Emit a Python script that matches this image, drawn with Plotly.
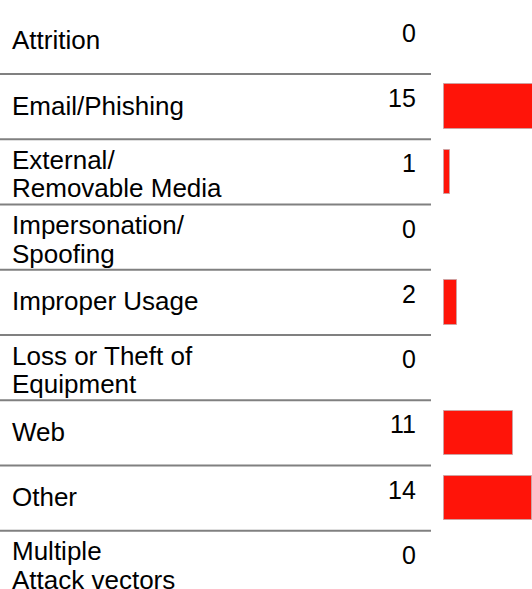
import plotly.graph_objects as go

# Attack vector categories (line breaks as printed in the table)
categories = [
    "Attrition",
    "Email/Phishing",
    "External/<br>Removable Media",
    "Impersonation/<br>Spoofing",
    "Improper Usage",
    "Loss or Theft of<br>Equipment",
    "Web",
    "Other",
    "Multiple<br>Attack vectors",
]
counts = [0, 15, 1, 0, 2, 0, 11, 14, 0]

W, H = 532, 589
FONT = "Liberation Sans, Arial, sans-serif"
BAR_RED = "#ff1409"

# pixel geometry of the table
row_h = 65.23
first_center = 41.4
bar_x0 = 444.0
px_per_unit = 6.28
line_offsets = {1: [-1.0], 2: [-12.0, 16.5]}

n = len(categories)
ypos = list(range(n))
y_top = -first_center / row_h
y_bot = (H - first_center) / row_h

fig = go.Figure()
fig.add_trace(go.Bar(
    x=counts,
    y=ypos,
    orientation="h",
    width=0.68,
    marker=dict(
        color=BAR_RED,
        line=dict(color="#d0a0a0", width=[1 if v else 0 for v in counts]),
    ),
    hoverinfo="skip",
))

shapes = []
annotations = []
for i, (cat, val) in enumerate(zip(categories, counts)):
    lines = cat.split("<br>")
    for part, off in zip(lines, line_offsets[len(lines)]):
        annotations.append(dict(
            x=11.5 / W, xref="paper", xanchor="left",
            y=i + off / row_h, yref="y", yanchor="middle",
            text=part, showarrow=False, align="left",
            font=dict(family=FONT, size=26, color="#000000"),
            borderwidth=0, borderpad=0,
        ))
    annotations.append(dict(
        x=416 / W, xref="paper", xanchor="right",
        y=i - 8.5 / row_h, yref="y", yanchor="middle",
        text=str(val), showarrow=False, align="right",
        font=dict(family=FONT, size=25, color="#000000"),
        borderwidth=0, borderpad=0,
    ))
    if i < n - 1:
        shapes.append(dict(
            type="line", xref="paper", yref="y",
            x0=0, x1=431 / W, y0=i + 0.5, y1=i + 0.5,
            line=dict(color="#808080", width=2),
        ))

fig.update_layout(
    width=W, height=H,
    margin=dict(l=0, r=0, t=0, b=0),
    paper_bgcolor="white", plot_bgcolor="white",
    showlegend=False,
    xaxis=dict(range=[-bar_x0 / px_per_unit, (W - bar_x0) / px_per_unit],
               visible=False, showgrid=False, zeroline=False, fixedrange=True),
    yaxis=dict(range=[y_bot, y_top], visible=False, showgrid=False,
               zeroline=False, fixedrange=True),
    shapes=shapes,
    annotations=annotations,
    bargap=0,
)

fig.write_html("out.html", config={"displayModeBar": False})
